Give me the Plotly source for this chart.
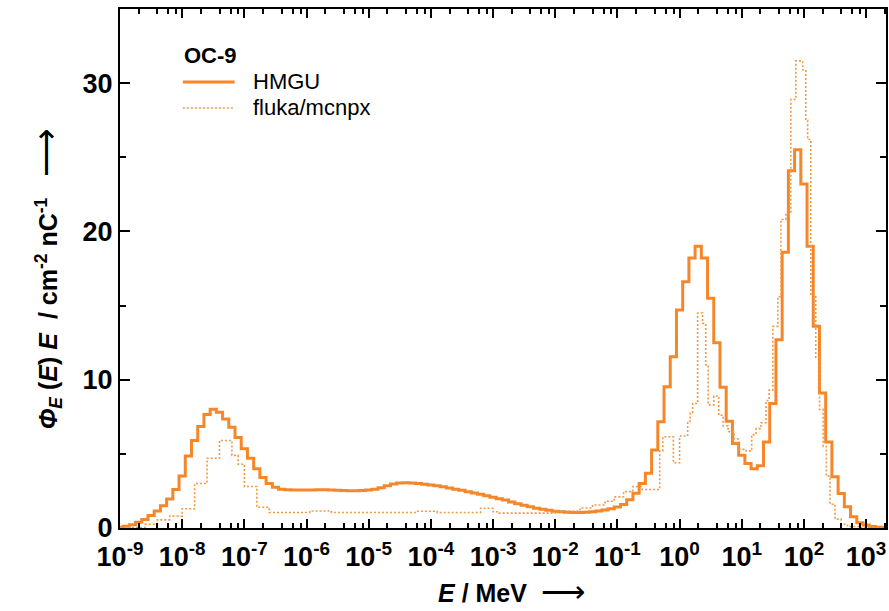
import plotly.graph_objects as go

# ---------------- data ----------------
# HMGU: bins of 0.1 decade, centred at log10(E/MeV) = -9.0, -8.9, ..., 3.3
hmgu_first_center = -9.0
hmgu_bin_width = 0.1
hmgu_values = [
    0.05, 0.12, 0.22, 0.38, 0.58, 0.85, 1.15, 1.5, 1.95, 2.6,      # -9.0 .. -8.1
    3.5, 4.85, 5.9, 6.85, 7.65, 8.0, 7.8, 7.35, 6.8, 6.1,         # -8.0 .. -7.1
    5.35, 4.7, 4.0, 3.4, 3.0, 2.75, 2.62, 2.58, 2.57, 2.57,       # -7.0 .. -6.1
    2.57, 2.57, 2.58, 2.58, 2.57, 2.55, 2.53, 2.52, 2.52, 2.53,   # -6.0 .. -5.1
    2.56, 2.62, 2.72, 2.85, 2.96, 3.03, 3.05, 3.03, 3.0, 2.95,    # -5.0 .. -4.1
    2.9, 2.85, 2.78, 2.7, 2.62, 2.54, 2.45, 2.36, 2.27, 2.18,     # -4.0 .. -3.1
    2.08, 1.98, 1.88, 1.76, 1.64, 1.53, 1.43, 1.34, 1.26, 1.19,   # -3.0 .. -2.1
    1.13, 1.09, 1.06, 1.04, 1.04, 1.06, 1.09, 1.14, 1.21, 1.3,    # -2.0 .. -1.1
    1.42, 1.58, 1.9, 2.35, 3.0, 3.7, 5.26, 7.17, 9.53, 11.55,     # -1.0 .. -0.1
    14.7, 16.6, 18.2, 19.0, 18.2, 15.5, 12.5, 9.5, 7.2, 5.7,      # 0.0 .. 0.9
    4.9, 4.35, 4.0, 4.2, 5.8, 8.4, 12.7, 18.6, 24.1, 25.5,        # 1.0 .. 1.9
    23.2, 19.0, 13.6, 9.1, 5.8, 3.45, 2.33, 1.43, 0.76, 0.35,     # 2.0 .. 2.9
    0.2, 0.1, 0.05, 0.02,                                          # 3.0 .. 3.3
]

# fluka/mcnpx: bin edges in log10(E/MeV) and bin values
fluka_log_edges = [
    -9.0, -8.6, -8.4, -8.2, -8.0, -7.8, -7.6, -7.4, -7.2, -7.1,
    -7.0, -6.8, -6.6, -5.95, -5.6, -4.25, -3.9, -3.2, -3.0, -2.9,
    -2.0, -1.6, -1.4, -1.2, -1.05, -0.9, -0.75, -0.6, -0.32, -0.27,
    -0.1, 0.0, 0.13, 0.17, 0.21, 0.29, 0.37, 0.42, 0.46, 0.55,
    0.63, 0.7, 0.78, 0.88, 0.95, 1.07, 1.16, 1.23, 1.31, 1.39,
    1.44, 1.5, 1.58, 1.63, 1.71, 1.79, 1.87, 1.98, 2.03, 2.06,
    2.11, 2.19, 2.25, 2.31, 2.36, 2.42, 2.5, 2.6, 2.7, 2.9, 3.32,
]
fluka_values = [
    0.03, 0.25, 0.55, 0.8, 1.3, 3.0, 4.7, 5.9, 4.9, 4.3,
    2.8, 1.4, 1.05, 1.15, 1.05, 1.13, 1.05, 1.33, 1.1, 1.0,
    1.15, 1.35, 1.55, 1.8, 2.1, 2.45, 2.8, 2.6, 5.2, 6.15,
    4.4, 6.2, 7.2, 7.8, 8.4, 14.5, 13.8, 11.0, 8.3, 8.9,
    7.6, 6.9, 6.5, 6.0, 5.3, 5.2, 6.3, 6.7, 7.1, 8.6,
    9.3, 13.6, 15.6, 20.8, 21.2, 28.9, 31.5, 30.9, 27.5, 26.2,
    15.7, 11.5, 8.0, 5.5, 3.5, 1.6, 0.6, 0.25, 0.1, 0.03,
]

series_names = ["HMGU", "fluka/mcnpx"]
legend_title = "OC-9"
x_decades = list(range(-9, 4))
x_tick_labels = ["10<sup>%d</sup>" % d for d in x_decades]
y_tick_values = [0, 10, 20, 30]
y_minor_values = [5, 15, 25]
minor_mantissas = [2, 4, 6, 8]

assert len(fluka_values) == len(fluka_log_edges) - 1

# ---------------- build step traces ----------------
hmgu_edges = [round(hmgu_first_center - hmgu_bin_width / 2 + i * hmgu_bin_width, 3)
              for i in range(len(hmgu_values) + 1)]
hmgu_x = [10 ** e for e in hmgu_edges]
hmgu_y = hmgu_values + [hmgu_values[-1]]

fluka_x = [10 ** e for e in fluka_log_edges]
fluka_y = fluka_values + [fluka_values[-1]]

ORANGE = "#F5862A"
ORANGE_DOT = "#EE9A45"
FONT = "Liberation Sans, Arial, Helvetica, sans-serif"

hmgu_line = dict(color=ORANGE, width=3, shape="hv")
fluka_line = dict(color=ORANGE_DOT, width=1.6, shape="hv", dash="2px,2px")

fig = go.Figure()
fig.add_trace(go.Scatter(x=hmgu_x, y=hmgu_y, mode="lines", name=series_names[0],
                         line=hmgu_line, showlegend=False))
fig.add_trace(go.Scatter(x=fluka_x, y=fluka_y, mode="lines", name=series_names[1],
                         line=fluka_line, showlegend=False))

minor_x = [m * 10.0 ** d for d in x_decades for m in minor_mantissas]

fig.update_xaxes(
    type="log", range=[-9, 3.32],
    showline=True, linecolor="black", linewidth=2, mirror="ticks",
    ticks="inside", ticklen=9, tickwidth=2, tickcolor="black",
    tickmode="array", tickvals=[10.0 ** d for d in x_decades], ticktext=x_tick_labels,
    tickfont=dict(family=FONT, size=27, color="black", weight="bold"),
    ticklabelstandoff=4,
    showgrid=False, zeroline=False,
    minor=dict(tickmode="array", tickvals=minor_x, ticks="inside", ticklen=5,
               tickwidth=2, tickcolor="black", showgrid=False),
)
fig.update_yaxes(
    range=[0, 35],
    showline=True, linecolor="black", linewidth=2, mirror="ticks",
    ticks="inside", ticklen=10, tickwidth=2, tickcolor="black",
    tickmode="array", tickvals=y_tick_values,
    tickfont=dict(family=FONT, size=27, color="black", weight="bold"),
    showgrid=False, zeroline=False,
    minor=dict(tickmode="array", tickvals=y_minor_values, ticks="inside", ticklen=6,
               tickwidth=2, tickcolor="black", showgrid=False),
)

# ---- legend drawn in paper coordinates (pixel positions converted) ----
PL, PR, PT, PB = 120, 888, 9, 528
def px(xp):
    return (xp - PL) / (PR - PL)
def py(yp):
    return (PB - yp) / (PB - PT)

shapes = [
    dict(type="line", xref="paper", yref="paper", x0=px(183), x1=px(235),
         y0=py(82), y1=py(82), line=dict(color=ORANGE, width=3)),
    dict(type="line", xref="paper", yref="paper", x0=px(183), x1=px(235),
         y0=py(108), y1=py(108), line=dict(color=ORANGE_DOT, width=1.6, dash="2px,2px")),
]

annotations = [
    dict(text="<b>%s</b>" % legend_title, xref="paper", yref="paper", x=px(182), y=py(55),
         xanchor="left", yanchor="middle", showarrow=False,
         font=dict(family=FONT, size=22, color="black")),
    dict(text=series_names[0], xref="paper", yref="paper", x=px(251), y=py(82),
         xanchor="left", yanchor="middle", showarrow=False,
         font=dict(family=FONT, size=22, color="black")),
    dict(text=series_names[1], xref="paper", yref="paper", x=px(251), y=py(108),
         xanchor="left", yanchor="middle", showarrow=False,
         font=dict(family=FONT, size=22, color="black")),
    dict(
        text="<b><i>E</i> / MeV</b>  <span style='font-size:31px'>⟶</span>",
        xref="paper", yref="paper", x=px(513), y=py(591),
        xanchor="center", yanchor="middle", showarrow=False,
        font=dict(family=FONT, size=25, color="black"),
    ),
    dict(
        text="<b><i>Φ</i><sub><i>E</i></sub> (<i>E</i>) <i>E</i>  / cm<sup>-2</sup> nC<sup>-1</sup></b>   "
             "<span style='font-size:34px'>⟶</span>",
        xref="paper", yref="paper", x=px(46), y=py(279),
        xanchor="center", yanchor="middle", showarrow=False, textangle=-90,
        font=dict(family=FONT, size=25, color="black"),
    ),
]

fig.update_layout(
    width=889, height=611,
    margin=dict(l=PL, r=889 - PR, t=PT, b=611 - PB),
    paper_bgcolor="white", plot_bgcolor="white",
    font=dict(family=FONT, color="black"),
    showlegend=False,
    shapes=shapes,
    annotations=annotations,
)

fig.write_html("out.html")
